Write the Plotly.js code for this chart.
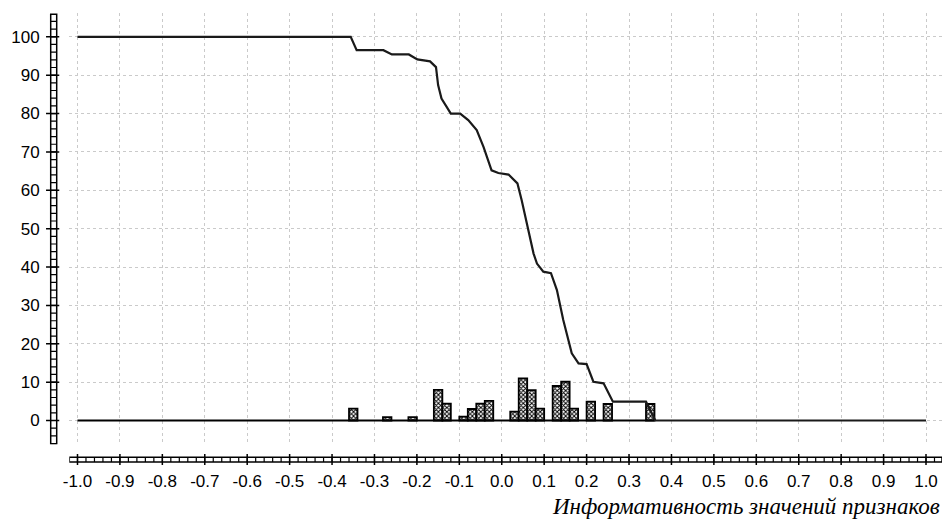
<!DOCTYPE html>
<html>
<head>
<meta charset="utf-8">
<script src="https://cdn.plot.ly/plotly-3.0.1.min.js"></script>
<style>html,body{margin:0;padding:0;background:#fff;}#chart{width:944px;height:521px;}</style>
</head>
<body>
<div id="chart"></div>
<script>
// ---- data ----
const curveX = [-1.0, -0.356, -0.342, -0.279, -0.259, -0.219, -0.199, -0.169, -0.155, -0.150, -0.142, -0.130, -0.120, -0.098, -0.079, -0.059, -0.043, -0.024, -0.008, 0.016, 0.037, 0.047, 0.059, 0.075, 0.083, 0.098, 0.116, 0.130, 0.145, 0.165, 0.181, 0.200, 0.216, 0.240, 0.262, 0.340, 0.362, 1.0];
const curveY = [100, 100, 96.5, 96.5, 95.4, 95.4, 94.1, 93.6, 92.1, 87.4, 83.9, 81.7, 80.0, 80.0, 78.3, 75.7, 71.3, 65.2, 64.5, 64.1, 61.8, 57.4, 51.4, 43.5, 40.9, 38.8, 38.4, 34.0, 26.2, 17.5, 14.9, 14.7, 10.1, 9.7, 4.9, 4.9, 0, 0];
const barX = [-0.35, -0.27, -0.21, -0.15, -0.13, -0.09, -0.07, -0.05, -0.03, 0.03, 0.05, 0.07, 0.09, 0.13, 0.15, 0.17, 0.21, 0.25, 0.35];
const barY = [3.1, 0.9, 0.9, 8.0, 4.4, 1.0, 3.0, 4.4, 5.1, 2.3, 11.0, 7.9, 3.1, 9.0, 10.1, 3.1, 4.9, 4.3, 4.3];
const baseX = [-1.0, 0.36];
const baseY = [0, 0];
const xTickVals = [-1.0, -0.9, -0.8, -0.7, -0.6, -0.5, -0.4, -0.3, -0.2, -0.1, 0.0, 0.1, 0.2, 0.3, 0.4, 0.5, 0.6, 0.7, 0.8, 0.9, 1.0];
const xTickLabels = ['-1.0', '-0.9', '-0.8', '-0.7', '-0.6', '-0.5', '-0.4', '-0.3', '-0.2', '-0.1', '0.0', '0.1', '0.2', '0.3', '0.4', '0.5', '0.6', '0.7', '0.8', '0.9', '1.0'];
const yTickVals = [0, 10, 20, 30, 40, 50, 60, 70, 80, 90, 100];
const yTickLabels = ['0', '10', '20', '30', '40', '50', '60', '70', '80', '90', '100'];
const xAxisTitle = 'Информативность значений признаков';

// ---- axis geometry ----
const xRange = [-1.0193, 1.0377];
const yRange = [-6.2, 106.2];
const yLadderTop = 105.9;

const shapes = [];
// x-axis ladder
shapes.push({type: 'rect', xref: 'x', yref: 'paper', x0: xRange[0], x1: xRange[1], y0: -0.0045, y1: 0.006,
  line: {color: '#000', width: 1.5}, fillcolor: '#fff', layer: 'above'});
for (let v = -1.0; v <= xRange[1] + 1e-9; v += 0.02) {
  shapes.push({type: 'line', xref: 'x', yref: 'paper', x0: v, x1: v, y0: -0.0045, y1: 0.006,
    line: {color: '#000', width: 1.2}, layer: 'above'});
}
xTickVals.forEach(v => shapes.push({type: 'line', xref: 'x', yref: 'paper', x0: v, x1: v, y0: -0.0112, y1: 0.0134,
  line: {color: '#000', width: 1.5}, layer: 'above'}));
// y-axis ladder
shapes.push({type: 'rect', xref: 'paper', yref: 'y', x0: 0.00302, x1: 0.00973, y0: yRange[0], y1: yLadderTop,
  line: {color: '#000', width: 1.5}, fillcolor: '#fff', layer: 'above'});
for (let v = -6; v <= yLadderTop; v += 2) {
  shapes.push({type: 'line', xref: 'paper', yref: 'y', x0: 0.00302, x1: 0.00973, y0: v, y1: v,
    line: {color: '#000', width: 1.2}, layer: 'above'});
}
yTickVals.forEach(v => shapes.push({type: 'line', xref: 'paper', yref: 'y', x0: -0.0022, x1: 0.0126, y0: v, y1: v,
  line: {color: '#000', width: 1.5}, layer: 'above'}));

const tickFont = {family: 'Liberation Sans, Arial, sans-serif', size: 17, color: '#000'};

const traces = [
  {type: 'scatter', mode: 'lines', x: baseX, y: baseY, line: {color: '#000', width: 2}, hoverinfo: 'skip'},
  {type: 'bar', x: barX, y: barY, width: 0.02,
    marker: {color: '#fff', line: {color: '#000', width: 1.8},
      pattern: {shape: 'x', size: 3, solidity: 0.55, fgcolor: '#000', bgcolor: '#fff'}}},
  {type: 'scatter', mode: 'lines', x: curveX, y: curveY, line: {color: '#1a1a1a', width: 2.2}}
];

const layout = {
  width: 944, height: 521,
  margin: {l: 48, r: 2, t: 13, b: 61, pad: 0},
  paper_bgcolor: '#fff', plot_bgcolor: '#fff',
  showlegend: false,
  bargap: 0,
  xaxis: {domain: [0.02383, 1], range: xRange, anchor: 'free', position: 0,
    tickmode: 'array', tickvals: xTickVals, ticktext: xTickLabels, ticks: '', showline: false,
    showgrid: true, gridcolor: '#cacaca', griddash: 'dot', gridwidth: 1, zeroline: false,
    tickfont: tickFont, ticklabelstandoff: 9},
  yaxis: {domain: [0.0351, 1], range: yRange, anchor: 'free', position: 0.00638,
    tickmode: 'array', tickvals: yTickVals, ticktext: yTickLabels, ticks: '', showline: false,
    showgrid: true, gridcolor: '#cacaca', griddash: 'dot', gridwidth: 1, zeroline: false,
    tickfont: tickFont, ticklabelstandoff: 14},
  shapes: shapes,
  annotations: [{text: xAxisTitle, xref: 'paper', yref: 'paper', x: 1, y: -0.105, xanchor: 'right', yanchor: 'middle',
    showarrow: false, font: {family: 'Liberation Serif, Times New Roman, serif', size: 23, style: 'italic', color: '#000'}}]
};

Plotly.newPlot('chart', traces, layout, {displayModeBar: false, staticPlot: true});
</script>
</body>
</html>
